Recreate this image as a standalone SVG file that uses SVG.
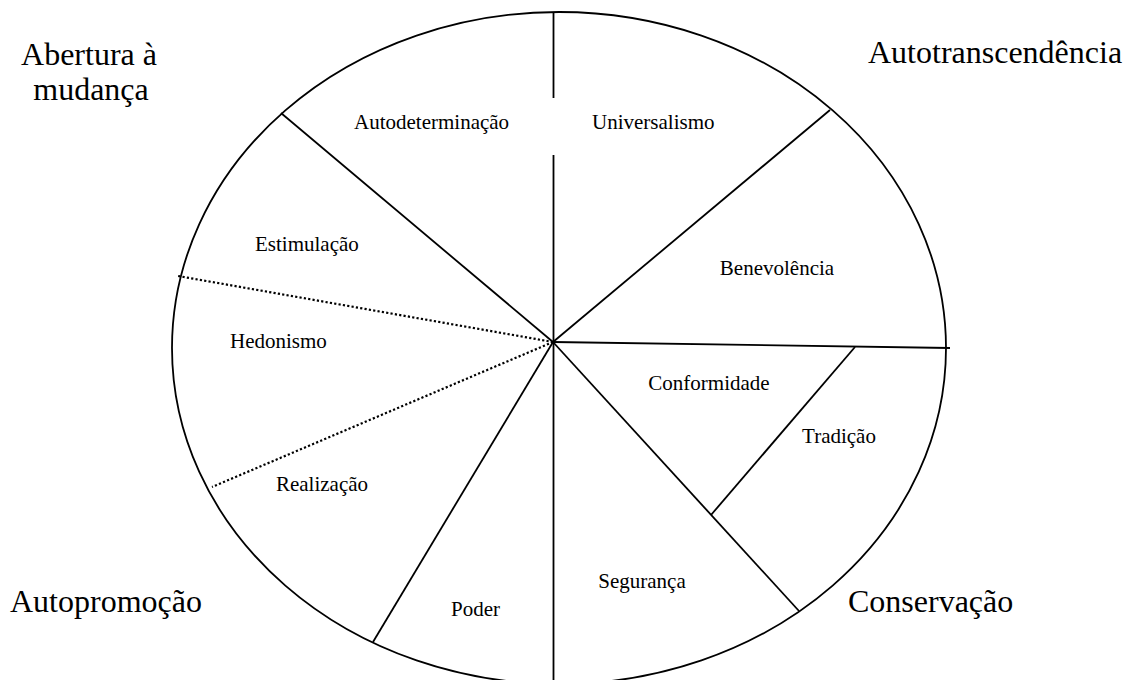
<svg xmlns="http://www.w3.org/2000/svg" width="1126" height="680" viewBox="0 0 1126 680">
<style>
.ln{stroke:#000;stroke-width:1.8;fill:none}
.dot{stroke:#000;stroke-width:2.2;fill:none;stroke-dasharray:2.2,2.2}
.s{font-family:"Liberation Serif","Times New Roman",serif;font-size:21px;fill:#000}
.b{font-family:"Liberation Serif","Times New Roman",serif;font-size:32px;fill:#000}
</style>
<rect width="1126" height="680" fill="#fff"/>
<g id="circle"><ellipse class="ln" cx="559" cy="348" rx="387" ry="336"/></g>
<g id="connectors">
<line class="ln" x1="553.5" y1="12" x2="553.5" y2="98"/>
<line class="ln" x1="553.5" y1="155" x2="553.5" y2="680"/>
<line class="ln" x1="553" y1="342" x2="281" y2="113"/>
<line class="ln" x1="553" y1="342" x2="830" y2="110"/>
<line class="dot" x1="553" y1="342" x2="178" y2="276"/>
<line class="dot" x1="553" y1="342" x2="212" y2="487"/>
<line class="ln" x1="553" y1="342" x2="950" y2="348"/>
<line class="ln" x1="553" y1="342" x2="799" y2="611"/>
<line class="ln" x1="553" y1="342" x2="373" y2="642"/>
<line class="ln" x1="855" y1="347" x2="711" y2="515"/>
</g>
<g id="quadrant-labels">
<text class="b" x="89" y="65" text-anchor="middle">Abertura à</text>
<text class="b" x="91" y="100" text-anchor="middle">mudança</text>
<text class="b" x="868" y="63">Autotranscendência</text>
<text class="b" x="10" y="612">Autopromoção</text>
<text class="b" x="848" y="612">Conservação</text>
</g>
<g id="n-autodeterminacao"><text class="s" x="354" y="129">Autodeterminação</text></g>
<g id="n-universalismo"><text class="s" x="592" y="129">Universalismo</text></g>
<g id="n-estimulacao"><text class="s" x="255" y="251">Estimulação</text></g>
<g id="n-benevolencia"><text class="s" x="777" y="275" text-anchor="middle">Benevolência</text></g>
<g id="n-hedonismo"><text class="s" x="230" y="348">Hedonismo</text></g>
<g id="n-conformidade"><text class="s" x="709" y="390" text-anchor="middle">Conformidade</text></g>
<g id="n-tradicao"><text class="s" x="839" y="443" text-anchor="middle">Tradição</text></g>
<g id="n-realizacao"><text class="s" x="322" y="491" text-anchor="middle">Realização</text></g>
<g id="n-seguranca"><text class="s" x="642" y="588" text-anchor="middle">Segurança</text></g>
<g id="n-poder"><text class="s" x="451" y="616">Poder</text></g>
</svg>
